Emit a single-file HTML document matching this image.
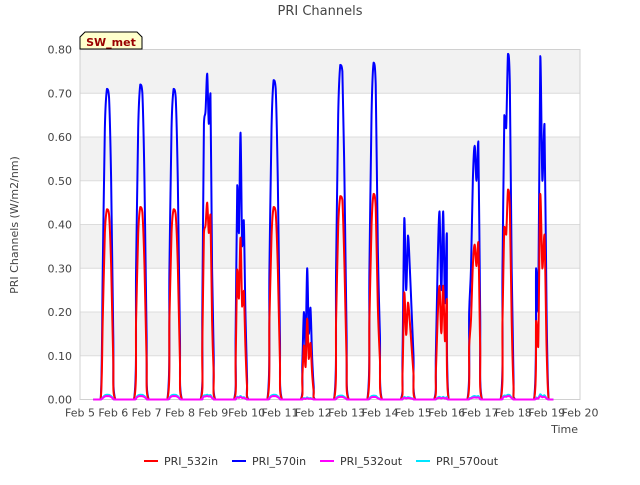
<!DOCTYPE html>
<html><head><meta charset="utf-8"><style>
body{margin:0;background:#fff;font-family:"Liberation Sans","DejaVu Sans",sans-serif}
svg text{font-family:"DejaVu Sans","Liberation Sans",sans-serif}
</style></head><body>
<svg id="chart" width="640" height="480" viewBox="0 0 640 480">
<text x="320" y="15" text-anchor="middle" font-size="13" fill="#444">PRI Channels</text>
<g id="plot"></g>
<text transform="translate(18,225) rotate(-90)" text-anchor="middle" font-size="11" fill="#444">PRI Channels (W/m2/nm)</text>
<text x="578" y="433" text-anchor="end" font-size="11" fill="#444">Time</text>
<g>
<path d="M80,49 L80,37 L85,32 L137,32 L142,37 L142,49 Z" fill="#ffffcc" stroke="#000" stroke-width="1"/>
<text x="111" y="46" text-anchor="middle" font-size="11" font-weight="bold" fill="#990000">SW_met</text>
</g>
<g>
<g><line x1="144" y1="461" x2="158" y2="461" stroke="#ff0000" stroke-width="2"/><text x="164" y="465" font-size="11" fill="#333">PRI_532in</text></g>
<g><line x1="232" y1="461" x2="246" y2="461" stroke="#0000ff" stroke-width="2"/><text x="252" y="465" font-size="11" fill="#333">PRI_570in</text></g>
<g><line x1="320" y1="461" x2="334" y2="461" stroke="#ff00ff" stroke-width="2"/><text x="340" y="465" font-size="11" fill="#333">PRI_532out</text></g>
<g><line x1="416" y1="461" x2="430" y2="461" stroke="#00e5ff" stroke-width="2"/><text x="436" y="465" font-size="11" fill="#333">PRI_570out</text></g>
</g>
</svg>
<script>
const xTickLabels=["Feb 5","Feb 6","Feb 7","Feb 8","Feb 9","Feb 10","Feb 11","Feb 12","Feb 13","Feb 14","Feb 15","Feb 16","Feb 17","Feb 18","Feb 19","Feb 20"];
const yTicks=[0,0.1,0.2,0.3,0.4,0.5,0.6,0.7,0.8];
const yTickLabels=["0.00","0.10","0.20","0.30","0.40","0.50","0.60","0.70","0.80"];
const profile570in=[
[0,0.3,0.62,0.71,0.69,0.5,0.15,0],
[0,0.3,0.62,0.72,0.70,0.5,0.15,0],
[0,0.3,0.62,0.71,0.69,0.5,0.15,0],
[0,0.2,0.63,0.66,0.745,0.63,0.70,0.3,0.1,0],
[0,0.15,0.49,0.38,0.61,0.35,0.41,0.2,0.05,0],
[0,0.3,0.62,0.73,0.71,0.5,0.15,0],
[0,0.08,0.2,0.12,0.3,0.15,0.21,0.1,0.03,0],
[0,0.3,0.65,0.765,0.75,0.5,0.15,0],
[0,0.3,0.65,0.77,0.72,0.35,0.15,0],
[0,0.1,0.415,0.25,0.375,0.3,0.2,0.1,0],
[0,0.1,0.31,0.43,0.25,0.43,0.22,0.38,0],
[0,0.2,0.3,0.5,0.58,0.5,0.59,0.2,0],
[0,0.3,0.65,0.62,0.79,0.72,0.3,0.05,0],
[0,0.3,0.2,0.785,0.5,0.63,0.2,0]];
const peak532in=[0.435,0.44,0.435,0.45,0.37,0.44,0.185,0.465,0.47,0.245,0.26,0.36,0.48,0.47];
const peak532out=[0.008,0.008,0.008,0.008,0.006,0.008,0.003,0.006,0.006,0.004,0.004,0.005,0.008,0.008];
const peak570out=[0.011,0.011,0.011,0.011,0.008,0.011,0.005,0.009,0.009,0.006,0.006,0.008,0.011,0.012];
const X0=80,X1=580,Y0=399.5,Y1=49.5;
const xs=d=>X0+(X1-X0)*d/15;
const ys=v=>Y0-(Y0-Y1)*v/0.8;
const NS="http://www.w3.org/2000/svg";
const plot=document.getElementById('plot');
function mk(t,a){const e=document.createElementNS(NS,t);for(const k in a)e.setAttribute(k,a[k]);plot.appendChild(e);return e;}
for(let i=0;i<8;i++){if(i%2===1)continue;
 const r=mk('rect',{x:X0,y:ys(0.8-i*0.1),width:X1-X0,height:ys(0.7-i*0.1)-ys(0.8-i*0.1),fill:'#f2f2f2'});
 
 }
yTicks.forEach((v,i)=>{
 const l=mk('line',{x1:X0,x2:X1,y1:ys(v),y2:ys(v),stroke:'#dcdcdc','stroke-width':1});
 
 
 const t=mk('text',{x:X0-8,y:ys(v)+4,'text-anchor':'end','font-size':11,fill:'#444'});
 t.textContent=yTickLabels[i];
 
 });
const fr=mk('rect',{x:X0,y:Y1,width:X1-X0,height:Y0-Y1,fill:'none',stroke:'#d0d0d0'});


xTickLabels.forEach((s,i)=>{
 const t=mk('text',{x:xs(i),y:ys(0)+17,'text-anchor':'middle','font-size':11,fill:'#444'});
 t.textContent=s;
 
 });
function seriesPath(getProfile){
 let pts=[[xs(0.4),ys(0)]];
 profile570in.forEach((p,d)=>{
  const prof=getProfile(p,d);const n=prof.length;
  for(let j=0;j<n;j++){const f=0.62+0.44*j/(n-1);pts.push([xs(d+f),ys(prof[j])]);}
 });
 pts.push([xs(14.2),ys(0)]);
 let s='M'+pts[0][0]+','+pts[0][1];
 for(let i=0;i<pts.length-1;i++){
  const p0=pts[Math.max(0,i-1)],p1=pts[i],p2=pts[i+1],p3=pts[Math.min(pts.length-1,i+2)];
  const t=0.16;
  const lo=Math.min(p1[1],p2[1]),hi=Math.max(p1[1],p2[1]);
  let c1y=p1[1]+(p2[1]-p0[1])*t,c2y=p2[1]-(p3[1]-p1[1])*t;
  c1y=Math.max(lo,Math.min(hi,c1y));c2y=Math.max(lo,Math.min(hi,c2y));
  s+=' C'+(p1[0]+(p2[0]-p0[0])*t)+','+c1y+' '+(p2[0]-(p3[0]-p1[0])*t)+','+c2y+' '+p2[0]+','+p2[1];
 }
 return s;}
const mx=p=>Math.max(...p);
const series=[
 ['series-pri-570in','#0000ff',(p,d)=>p],
 ['series-pri-532in','#ff0000',(p,d)=>p.map(v=>v*peak532in[d]/mx(p))],
 ['series-pri-570out','#00e5ff',(p,d)=>p.map(v=>v*peak570out[d]/mx(p))],
 ['series-pri-532out','#ff00ff',(p,d)=>p.map(v=>v*peak532out[d]/mx(p))]];
series.forEach(([n,c,f])=>{
 const e=mk('path',{d:seriesPath(f),fill:'none',stroke:c,'stroke-width':2,'stroke-linejoin':'round'});
 
 });
</script>
</body></html>
